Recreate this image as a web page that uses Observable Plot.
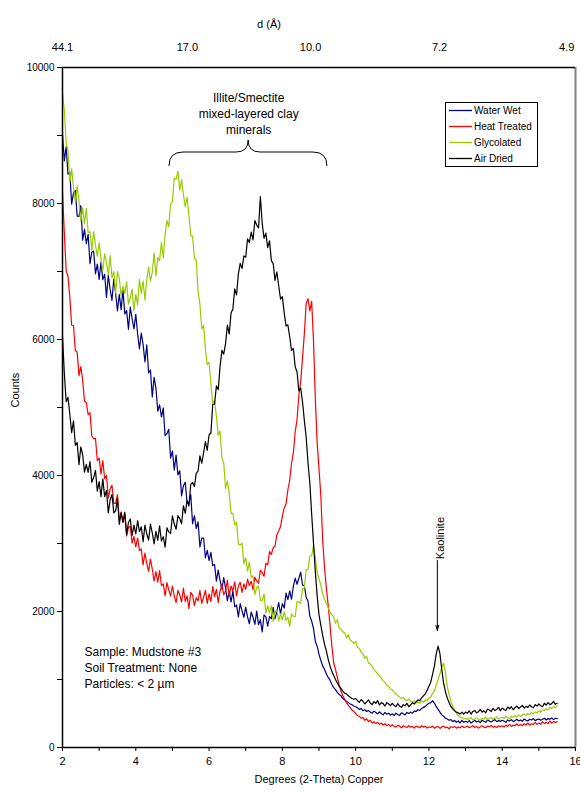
<!DOCTYPE html>
<html><head><meta charset="utf-8">
<script src="https://cdn.jsdelivr.net/npm/d3@7"></script>
<script src="https://cdn.jsdelivr.net/npm/@observablehq/plot@0.6"></script>
<style>body{margin:0;background:#fff} #chart{position:relative;width:580px;height:792px}</style>
</head><body><div id="chart"></div>
<script>
const seriesNames = ["Water Wet", "Heat Treated", "Glycolated", "Air Dried"];
const seriesColors = ["#000080", "#ff0000", "#99cc00", "#000000"];

// 2-theta sampling grid: 2.00 .. 15.50 in 0.05 steps (one row = one degree)
const twoTheta = d3.range(271).map(i => +(2 + i * 0.05).toFixed(2));

const waterWet = [
  9020, 8625, 8835, 8430, 8460, 7990, 8155, 8190, 7815, 7810, 7970, 7460, 7620, 7410, 7545, 7115, 7285, 7300, 6965, 7110,
  6885, 7140, 6880, 6960, 6620, 6945, 6735, 6575, 6890, 6680, 6420, 6665, 6440, 6725, 6375, 6425, 6150, 6475, 6305, 6155,
  6370, 6080, 5865, 6095, 5925, 5670, 5920, 5510, 5550, 5155, 5445, 5280, 4945, 5040, 4860, 4995, 4585, 4615, 4680, 4255,
  4360, 4080, 4300, 4010, 4070, 3700, 3850, 3900, 3600, 3590, 3720, 3290, 3410, 3220, 3320, 2950, 3080, 3080, 2790, 2900,
  2750, 2870, 2675, 2690, 2445, 2610, 2455, 2330, 2500, 2345, 2160, 2295, 2140, 2300, 2070, 2095, 1920, 2115, 2010, 1915,
  2065, 1920, 1820, 1990, 1915, 1810, 2005, 1805, 1880, 1700, 1950, 1920, 1785, 1925, 1895, 2060, 1890, 2000, 2130, 1960,
  2115, 2050, 2270, 2175, 2305, 2180, 2370, 2490, 2400, 2485, 2580, 2390, 2380, 2210, 2150, 1930, 1860, 1750, 1560, 1490,
  1370, 1280, 1200, 1150, 1080, 1030, 990, 930, 880, 850, 810, 780, 760, 720, 700, 680, 660, 640, 630, 610,
  600, 585, 560, 575, 540, 555, 530, 545, 520, 505, 535, 515, 495, 525, 500, 480, 515, 490, 505, 475,
  495, 470, 505, 485, 470, 510, 495, 480, 515, 500, 520, 505, 535, 530, 555, 545, 575, 590, 605, 630,
  650, 660, 690, 650, 600, 560, 520, 480, 460, 430, 420, 400, 410, 380, 400, 370, 390, 360, 400, 370,
  385, 370, 395, 360, 380, 400, 375, 390, 365, 400, 385, 370, 405, 390, 375, 395, 410, 380, 395, 385,
  400, 385, 370, 405, 390, 410, 380, 395, 415, 390, 405, 385, 420, 400, 390, 415, 405, 425, 395, 410,
  420, 400, 415, 430, 405, 425, 415, 435, 410, 430, 425
];
const heatTreated = [
  8165, 7565, 7015, 6930, 6620, 6210, 6205, 5835, 5815, 5470, 5600, 5405, 5090, 5075, 4895, 4925, 4580, 4540, 4545, 4220,
  4255, 4020, 4220, 3955, 4000, 3670, 3805, 3855, 3590, 3590, 3720, 3345, 3465, 3315, 3430, 3110, 3240, 3250, 3005, 3105,
  2950, 3080, 2895, 2920, 2685, 2860, 2705, 2590, 2770, 2625, 2450, 2585, 2430, 2600, 2380, 2405, 2230, 2425, 2320, 2225,
  2375, 2230, 2130, 2310, 2245, 2140, 2345, 2145, 2230, 2040, 2280, 2240, 2085, 2205, 2155, 2310, 2120, 2210, 2310, 2120,
  2260, 2145, 2365, 2220, 2325, 2130, 2300, 2395, 2245, 2305, 2460, 2225, 2375, 2305, 2435, 2230, 2375, 2430, 2280, 2405,
  2325, 2475, 2380, 2445, 2320, 2505, 2450, 2415, 2605, 2570, 2520, 2710, 2685, 2880, 2840, 2940, 2960, 3130, 3185, 3250,
  3400, 3520, 3580, 3790, 3930, 4180, 4330, 4640, 4820, 5180, 5380, 5730, 6080, 6530, 6600, 6420, 6560, 5980, 5120, 4480,
  4100, 3700, 3050, 2650, 2350, 2100, 1800, 1500, 1250, 1150, 1030, 920, 830, 760, 710, 660, 620, 590, 550, 530,
  500, 470, 460, 430, 440, 400, 420, 380, 400, 360, 380, 350, 370, 340, 360, 330, 350, 320, 340, 310,
  335, 310, 300, 325, 315, 290, 320, 305, 295, 320, 300, 310, 285, 315, 305, 290, 320, 300, 310, 285,
  305, 295, 315, 285, 300, 310, 280, 300, 315, 290, 300, 275, 305, 295, 310, 285, 300, 290, 315, 295,
  300, 315, 290, 305, 320, 295, 310, 285, 305, 320, 300, 290, 315, 305, 325, 300, 310, 295, 320, 305,
  320, 300, 330, 310, 340, 310, 330, 320, 350, 320, 340, 320, 350, 330, 360, 330, 350, 340, 370, 340,
  360, 340, 380, 350, 370, 350, 390, 360, 380, 370, 380
];
const glycolated = [
  9620, 9370, 8885, 8770, 8315, 8510, 8235, 8030, 8260, 8025, 7740, 7935, 7700, 7930, 7570, 7585, 7310, 7585, 7390, 7225,
  7425, 7180, 7010, 7260, 7135, 6950, 7235, 6905, 7000, 6680, 7000, 6900, 6645, 6785, 6675, 6850, 6520, 6610, 6740, 6420,
  6665, 6510, 6880, 6675, 6860, 6580, 6885, 7065, 6860, 6990, 7270, 6935, 7205, 7155, 7430, 7200, 7540, 7750, 7655, 7995,
  8020, 8375, 8355, 8475, 8195, 8350, 8130, 7950, 8095, 7825, 7525, 7520, 7195, 7170, 6705, 6520, 6155, 6210, 5860, 5630,
  5665, 5345, 5065, 5100, 4870, 4590, 4655, 4255, 4185, 3810, 3920, 3735, 3440, 3445, 3275, 3315, 2990, 2980, 3005, 2700,
  2790, 2595, 2725, 2500, 2525, 2250, 2350, 2375, 2165, 2165, 2260, 1975, 2085, 1980, 2085, 1855, 1985, 2025, 1860, 1970,
  1875, 1995, 1870, 1915, 1780, 1965, 1930, 1925, 2145, 2140, 2120, 2330, 2345, 2610, 2620, 2815, 2820, 2970, 2785, 2570,
  2480, 2390, 2260, 2180, 2120, 2060, 1990, 1950, 1920, 1830, 1880, 1760, 1740, 1700, 1690, 1610, 1660, 1580, 1560, 1530,
  1560, 1470, 1460, 1400, 1380, 1310, 1340, 1240, 1230, 1190, 1150, 1120, 1080, 1060, 1020, 980, 960, 910, 900, 860,
  850, 810, 790, 760, 745, 720, 735, 700, 690, 715, 680, 665, 690, 655, 670, 650, 685, 665, 700, 690,
  730, 740, 800, 830, 920, 1000, 1080, 1180, 1240, 1100, 900, 780, 680, 600, 550, 500, 470, 450, 440, 420,
  430, 410, 425, 440, 405, 420, 435, 415, 400, 430, 420, 445, 410, 425, 440, 415, 430, 450, 420, 435,
  445, 430, 455, 440, 425, 460, 445, 470, 450, 480, 460, 475, 495, 470, 500, 485, 515, 495, 525, 510,
  535, 520, 555, 545, 570, 555, 590, 575, 600, 590, 615
];
const airDried = [
  6045, 5505, 5085, 5150, 4900, 4630, 4805, 4445, 4485, 4160, 4420, 4305, 4050, 4165, 4045, 4205, 3900, 3970, 4075, 3770,
  3910, 3690, 3950, 3690, 3780, 3450, 3640, 3720, 3450, 3480, 3660, 3280, 3450, 3310, 3460, 3130, 3310, 3360, 3120, 3270,
  3140, 3335, 3175, 3245, 3025, 3270, 3140, 3050, 3285, 3155, 2995, 3180, 3045, 3260, 3035, 3100, 2945, 3230, 3170, 3150,
  3405, 3290, 3210, 3410, 3365, 3290, 3555, 3445, 3630, 3550, 3870, 3900, 3835, 4035, 4065, 4290, 4180, 4330, 4500, 4370,
  4600, 4625, 5045, 5050, 5320, 5260, 5605, 5840, 5785, 5940, 6210, 6080, 6390, 6450, 6745, 6655, 6965, 7120, 7045, 7230,
  7210, 7480, 7425, 7580, 7465, 7750, 7685, 7640, 8100, 7705, 7490, 7565, 7350, 7450, 7160, 7115, 6870, 6995, 6790, 6595,
  6630, 6395, 6200, 6215, 6040, 5840, 5870, 5600, 5525, 5245, 5285, 5085, 4810, 4565, 4185, 3890, 3430, 3005, 2580, 2230,
  1950, 1800, 1650, 1520, 1420, 1300, 1200, 1120, 1060, 1000, 950, 900, 870, 830, 800, 790, 760, 740, 720, 710,
  720, 690, 665, 705, 680, 640, 670, 700, 655, 630, 675, 650, 690, 625, 660, 645, 610, 660, 640, 615,
  650, 620, 600, 645, 610, 590, 630, 615, 650, 600, 625, 660, 640, 670, 700, 690, 730, 760, 790, 840,
  900, 960, 1080, 1200, 1380, 1490, 1380, 1150, 950, 820, 730, 660, 600, 570, 540, 520, 510, 490, 520, 490,
  520, 505, 540, 490, 530, 545, 510, 525, 560, 520, 540, 510, 565, 550, 530, 575, 545, 560, 590, 540,
  580, 560, 545, 595, 570, 600, 555, 585, 610, 575, 595, 620, 580, 605, 590, 625, 600, 585, 630, 610,
  640, 615, 600, 650, 625, 660, 630, 645, 680, 635, 650
];
const seriesValues = [waterWet, heatTreated, glycolated, airDried];

const xTicks = d3.range(2, 17, 1);
const yTicks = d3.range(0, 10001, 1000);
const dTickPositions = [2, 5.41, 8.77, 12.29, 15.76];
const dTickLabels = ["44.1", "17.0", "10.0", "7.2", "4.9"];

const data = [];
seriesNames.forEach((name, s) => seriesValues[s].forEach((v, i) => data.push({series: name, x: twoTheta[i], y: v})));
const dLabel = new Map(dTickPositions.map((p, i) => [p, dTickLabels[i]]));

const font = "'Liberation Sans', Arial, sans-serif";

const plot = Plot.plot({
  width: 580, height: 792,
  marginLeft: 62, marginRight: 5, marginTop: 67, marginBottom: 45,
  style: {fontFamily: font, fontSize: "11px", color: "#000", background: "#fff"},
  x: {domain: [2, 16]},
  y: {domain: [0, 10000]},
  color: {domain: seriesNames, range: seriesColors},
  marks: [
    Plot.ruleX([16], {stroke: "#808080", strokeWidth: 2}),
    Plot.line(data, {x: "x", y: "y", z: "series", stroke: "series", strokeWidth: 1.2}),
    Plot.ruleY([10000], {stroke: "#000", strokeWidth: 1.5}),
    Plot.ruleX([2], {stroke: "#000", strokeWidth: 1.5}),
    Plot.ruleY([0], {stroke: "#000", strokeWidth: 1.5}),
    Plot.axisX({ticks: xTicks, tickSize: 4, tickPadding: 6, tickFormat: d => d % 2 === 0 ? String(d) : "", label: null, fontSize: 11}),
    Plot.axisY({ticks: yTicks, tickSize: 5, tickPadding: 3, tickFormat: d => d % 2000 === 0 ? String(d) : "", label: null, fontSize: 10}),
    Plot.axisX({anchor: "top", ticks: dTickPositions, tickSize: 0, tickPadding: 17, tickFormat: d => dLabel.get(d), label: null, fontSize: 11}),
    Plot.text(["Degrees (2-Theta) Copper"], {frameAnchor: "bottom", dy: 35, fontSize: 11}),
    Plot.text(["Counts"], {frameAnchor: "left", dx: -47, rotate: -90, fontSize: 11}),
    Plot.text(["d (Å)"], {frameAnchor: "top", dx: -50, dy: -47, fontSize: 11}),
    Plot.text(["Illite/Smectite\nmixed-layered clay\nminerals"], {x: 7.08, y: 9338, fontSize: 12, lineHeight: 1.33}),
    Plot.text(["Sample: Mudstone #3\nSoil Treatment: None\nParticles: < 2 µm"], {x: 2.6, y: 1191, textAnchor: "start", fontSize: 12, lineHeight: 1.33}),
    Plot.text(["Kaolinite"], {x: 12.32, y: 3080, rotate: -90, fontSize: 11}),
    Plot.arrow([{x: 12.23, y1: 2750, y2: 1721}], {x1: "x", x2: "x", y1: "y1", y2: "y2", stroke: "#000", strokeWidth: 1, headLength: 8, headAngle: 30})
  ]
});

// Curly brace above the mixed-layer peaks
const sx = plot.scale("x").apply, sy = plot.scale("y").apply;
const braceFrom = 4.92, braceTo = 9.23, braceTip = 7.08;
const yEnd = sy(8544), yMid = sy(8750), yTop = sy(8926);
const xl = sx(braceFrom), xr = sx(braceTo), xt = sx(braceTip);
const svg = d3.select(plot);
svg.append("path")
  .attr("fill", "none").attr("stroke", "#000").attr("stroke-width", 1)
  .attr("d", `M${xl},${yEnd} Q${xl},${yMid} ${xl+14},${yMid} L${xt-12},${yMid} Q${xt},${yMid} ${xt},${yTop} Q${xt},${yMid} ${xt+12},${yMid} L${xr-14},${yMid} Q${xr},${yMid} ${xr},${yEnd}`);

// Legend box
const lg = svg.append("g").attr("font-family", font).attr("font-size", 10).attr("text-anchor", "start");
lg.append("rect").attr("x", 445.5).attr("y", 102.5).attr("width", 92).attr("height", 64)
  .attr("fill", "#fff").attr("stroke", "#000").attr("stroke-width", 1);
seriesNames.forEach((name, i) => {
  const y = 110.5 + i * 16;
  lg.append("line").attr("x1", 449).attr("x2", 472).attr("y1", y).attr("y2", y)
    .attr("stroke", seriesColors[i]).attr("stroke-width", 1.3);
  lg.append("text").attr("x", 474).attr("y", y).attr("dy", "0.35em").attr("text-anchor", "start").attr("fill", "#000").text(name);
});

document.getElementById("chart").appendChild(plot);
</script>
</body></html>
